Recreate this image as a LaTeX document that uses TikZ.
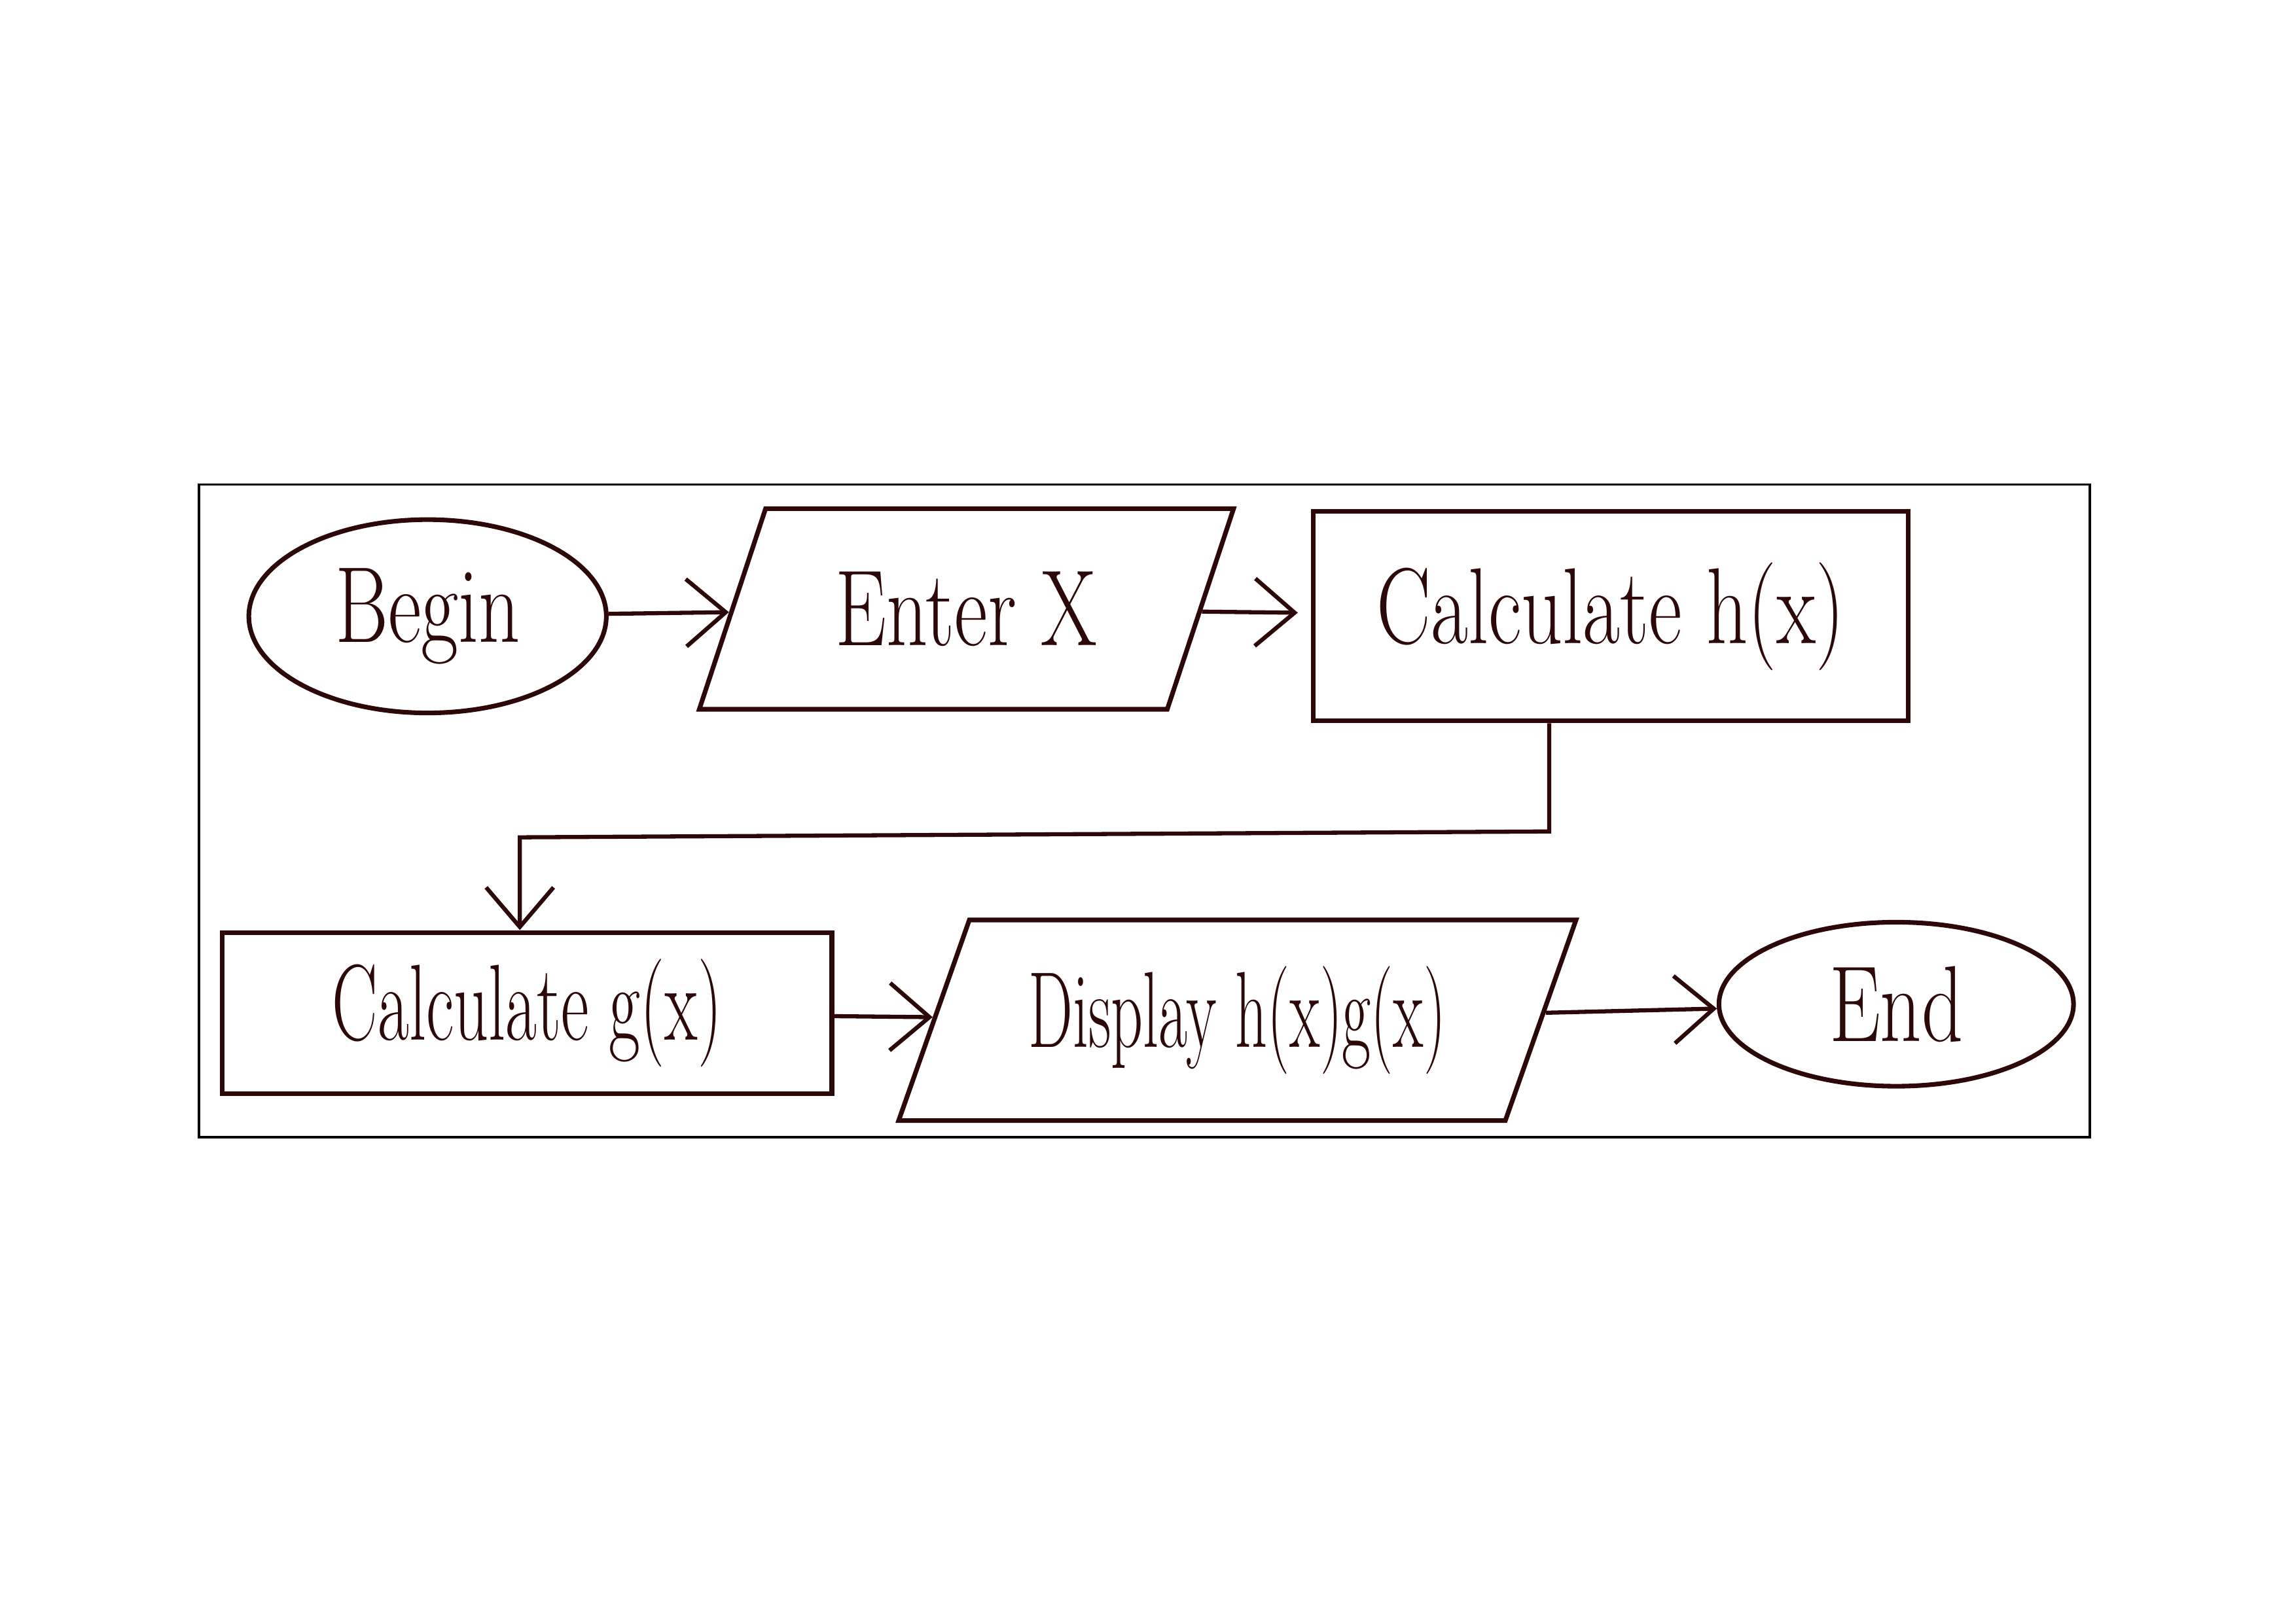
\documentclass[tikz,border=0pt]{standalone}
\usepackage{graphicx}
\usetikzlibrary{shapes.geometric,arrows.meta}
\definecolor{ink}{RGB}{45,8,8}
\newcommand{\hw}[2]{\scalebox{#1}[1]{\fontsize{21}{25}\selectfont #2}}
\begin{document}
\begin{tikzpicture}[x=0.01cm,y=-0.01cm,
  fc/.style={draw=ink,line width=0.9pt,inner sep=0pt,text=ink},
  oval/.style={fc,ellipse},
  box/.style={fc,rectangle},
  para/.style={fc,trapezium,trapezium stretches=true},
  arr/.style={draw=ink,line width=0.8pt,-{Straight Barb[length=0.27cm,width=0.46cm]}},
  frame/.style={draw=black,line width=0.5pt}
]
\useasboundingbox (0,0) rectangle (1568,1109);
\draw[frame] (136,331) rectangle (1427,777);

\node[oval,minimum width=2.44cm,minimum height=1.32cm] (begin) at (292,421) {\hw{0.75}{Begin}};
\node[para,trapezium left angle=60,trapezium right angle=120,minimum width=3.65cm,minimum height=1.37cm] (enter) at (660,416) {\hw{0.75}{Enter X}};
\node[box,minimum width=4.06cm,minimum height=1.43cm] (calch) at (1100,421) {\hw{0.75}{Calculate h(x)}};
\node[box,minimum width=4.16cm,minimum height=1.10cm] (calcg) at (360,692) {\hw{0.63}{Calculate g(x)}};
\node[para,trapezium left angle=63,trapezium right angle=117,minimum width=4.63cm,minimum height=1.37cm] (display) at (845,697) {\hw{0.58}{Display h(x)g(x)}};
\node[oval,minimum width=2.42cm,minimum height=1.12cm] (end) at (1295,686) {\hw{0.75}{End}};

\coordinate (k1) at (1058,568);
\coordinate (k2) at (355,572);

\draw[arr] (begin) -- (enter);
\draw[arr,shorten >=0.09cm] (enter) -- (calch);
\draw[arr] (calch.south -| k1) -- (k1) -- (k2) -- (calcg.north -| k2);
\draw[arr] (calcg) -- (display);
\draw[arr] (display) -- (end);
\end{tikzpicture}
\end{document}
